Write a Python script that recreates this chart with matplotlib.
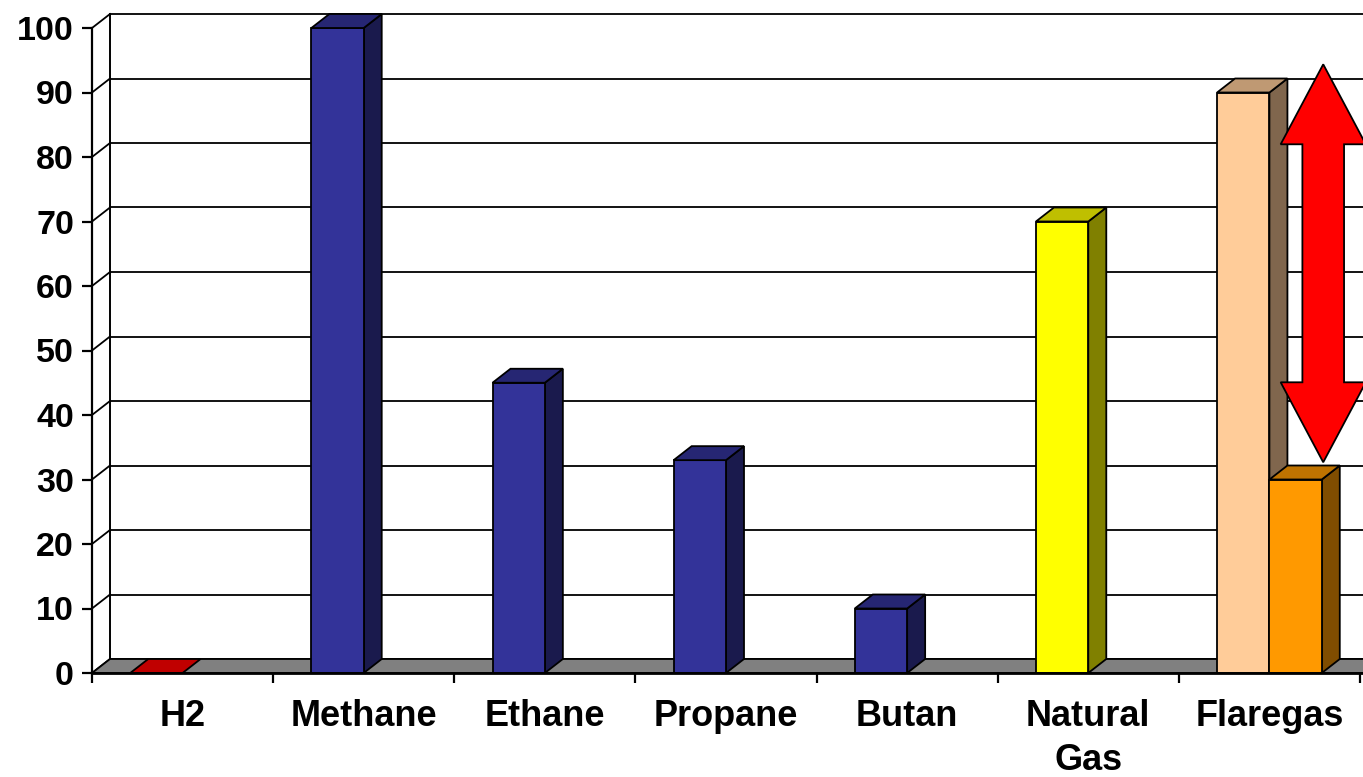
import matplotlib
matplotlib.use("Agg")
import matplotlib.pyplot as plt
from matplotlib.patches import Polygon
from matplotlib.colors import to_rgb

# Дані
categories = ["H2", "Methane", "Ethane", "Propane", "Butan", "Natural\nGas", "Flaregas"]
series1 = [0, 100, 45, 33, 10, 70, 90]
series2 = [0, 0, 0, 0, 0, 0, 30]
colors1 = ["#C00000", "#333399", "#333399", "#333399", "#333399", "#FFFF00", "#FFCC99"]
colors2 = ["#FF9900"] * 7
yticks = list(range(0, 101, 10))

plt.rcParams["font.family"] = ["Liberation Sans", "DejaVu Sans"]
plt.rcParams["font.weight"] = "bold"

W, H = 1363, 777
fig = plt.figure(figsize=(W / 100, H / 100), dpi=100)

# Пікселі на одиницю даних
px_x = (1360 - 92) / 7
px_y = (673 - 28) / 100
ax = fig.add_axes([92 / W, (H - 673) / H, (W - 92) / W, 673 / H])
ax.set_xlim(0, (W - 92) / px_x)
ax.set_ylim(0, 673 / px_y)

# Глибина 3D
dx = 18 / px_x
dy = 14 / px_y
xmax = 7.3

# Задня стінка та сітка
ax.plot([dx, dx], [dy, 100 + dy], color="black", lw=1.4, zorder=1)
for v in yticks:
    ax.plot([dx, xmax], [v + dy, v + dy], color="black", lw=1.3, zorder=1)
    ax.plot([0, dx], [v, v + dy], color="black", lw=1.3, zorder=1)

# Підлога
ax.add_patch(Polygon([(0, 0), (xmax, 0), (xmax + dx, dy), (dx, dy)],
                     closed=True, facecolor="#808080", edgecolor="black", lw=1.3, zorder=2))


def shade(c, k):
    r, g, b = to_rgb(c)
    return (r * k, g * k, b * k)


def bar3d(x0, w, v, color):
    ec = dict(edgecolor="black", lw=1.3, zorder=3)
    if v > 0:
        ax.add_patch(Polygon([(x0 + w, 0), (x0 + w + dx, dy), (x0 + w + dx, v + dy), (x0 + w, v)],
                             closed=True, facecolor=shade(color, 0.5), **ec))
        ax.add_patch(Polygon([(x0, 0), (x0 + w, 0), (x0 + w, v), (x0, v)],
                             closed=True, facecolor=color, **ec))
    ax.add_patch(Polygon([(x0, v), (x0 + w, v), (x0 + w + dx, v + dy), (x0 + dx, v + dy)],
                         closed=True, facecolor=shade(color, 0.75) if v > 0 else color, **ec))


# Стовпчики
bw = 0.289
gap = (1 - 2 * bw) / 2
for i in range(len(categories)):
    bar3d(i + gap, bw, series1[i], colors1[i])
    if series2[i] > 0:
        bar3d(i + gap + bw, bw, series2[i], colors2[i])

# Подвійна стрілка між значеннями Flaregas
i = len(categories) - 1
xc = i + gap + 2 * bw + 0.008
top = series1[i] + dy + 2.2
bot = series2[i] + dy + 0.5
head = 12.4
hw, sw = 0.235, 0.115
ax.add_patch(Polygon([
    (xc, top), (xc + hw, top - head), (xc + sw, top - head), (xc + sw, bot + head),
    (xc + hw, bot + head), (xc, bot), (xc - hw, bot + head), (xc - sw, bot + head),
    (xc - sw, top - head), (xc - hw, top - head)],
    closed=True, facecolor="#FF0000", edgecolor="black", lw=1.3, zorder=5))

# Осі
for s in ["top", "right"]:
    ax.spines[s].set_visible(False)
ax.spines["left"].set_bounds(0, 100)
ax.spines["left"].set_linewidth(1.6)
ax.spines["bottom"].set_linewidth(2)
ax.spines["left"].set_zorder(4)
ax.spines["bottom"].set_zorder(4)

ax.set_yticks(yticks)
ax.set_yticklabels([str(v) for v in yticks], fontsize=24.5, fontweight="bold")
ax.tick_params(axis="y", direction="out", length=7, width=1.6, pad=6)

ax.set_xticks(range(0, 8))
ax.set_xticklabels([])
ax.set_xticks([i + 0.5 for i in range(len(categories))], minor=True)
ax.set_xticklabels(categories, minor=True, fontsize=26, fontweight="bold", linespacing=1.32)
ax.tick_params(axis="x", which="minor", length=0, pad=19)
ax.tick_params(axis="x", which="major", direction="out", length=7, width=1.6)

fig.savefig("out.png", dpi=100)
